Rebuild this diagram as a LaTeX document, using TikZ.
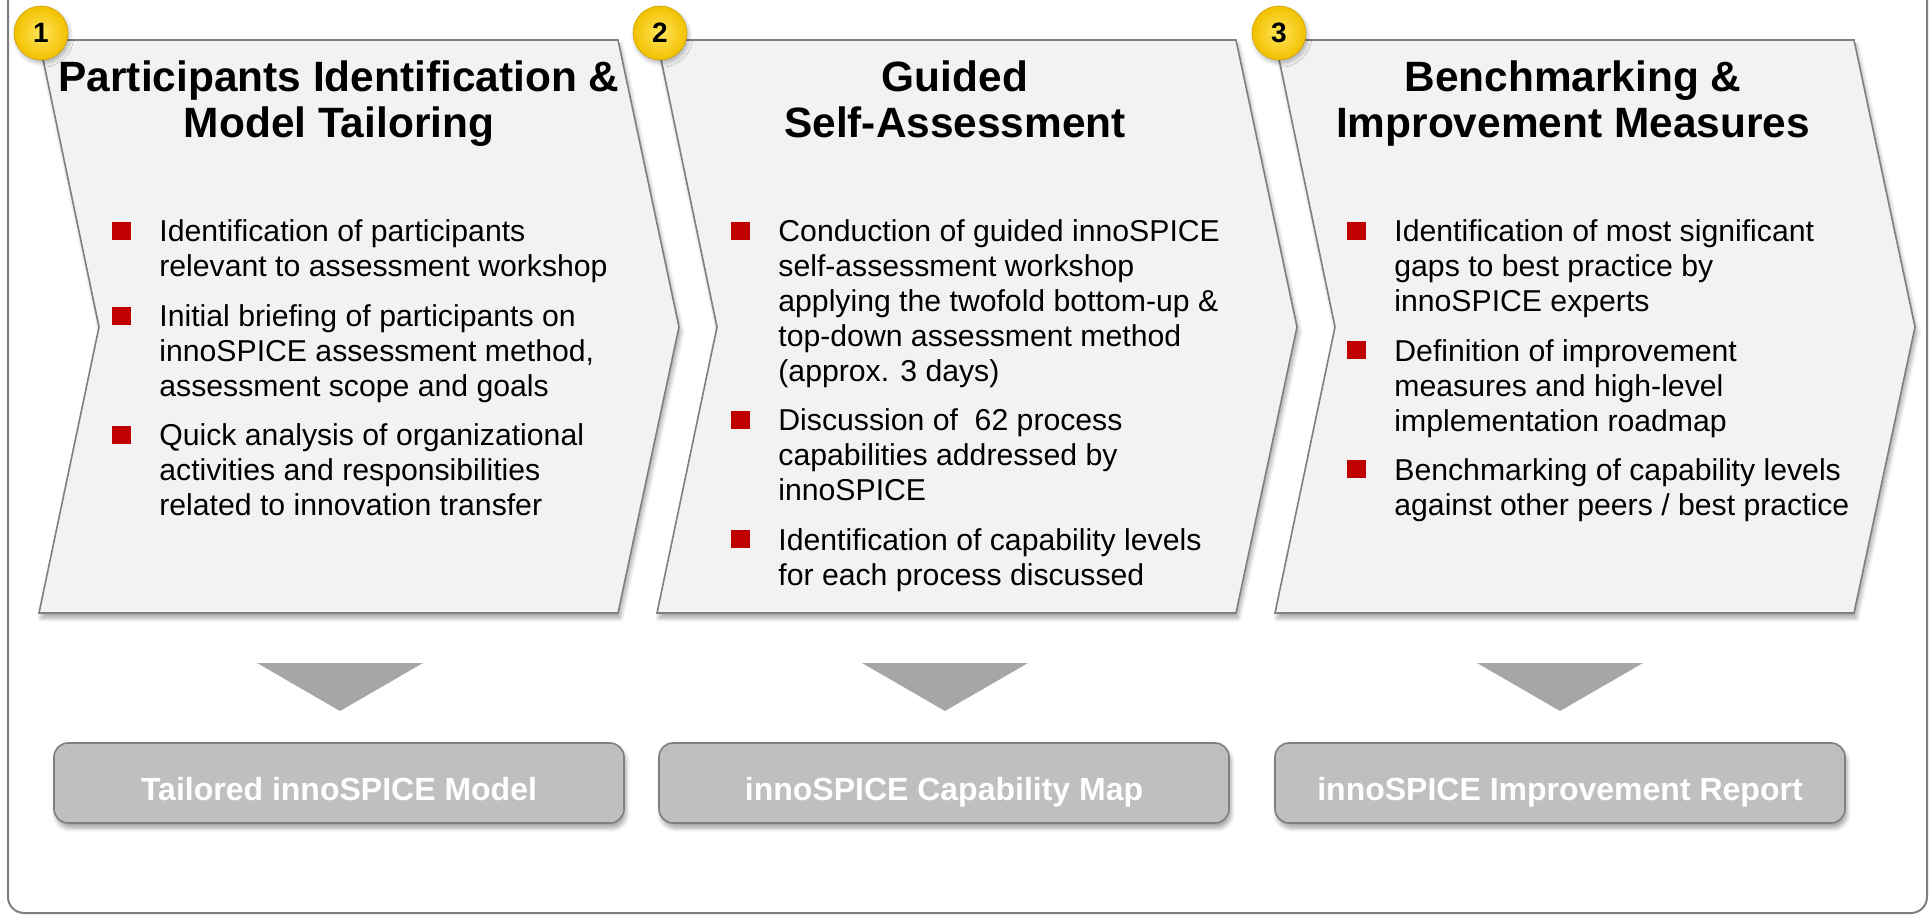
\documentclass[tikz,border=0pt]{standalone}
\usepackage{fontspec}
\setmainfont{Liberation Sans}
\usetikzlibrary{shadows.blur}

\definecolor{panel}{HTML}{F2F2F2}
\definecolor{edge}{HTML}{7F7F7F}
\definecolor{bulletred}{HTML}{C00000}
\definecolor{arrowgray}{HTML}{A6A6A6}
\definecolor{resultgray}{HTML}{BFBFBF}
\definecolor{goldlight}{HTML}{FFE65A}
\definecolor{golddark}{HTML}{F2C000}

\begin{document}
\begin{tikzpicture}[x=0.5pt, y=-0.5pt,
    chevron/.style={fill=panel, draw=edge, line width=0.8pt,
      blur shadow={shadow xshift=1pt, shadow yshift=-2.5pt, shadow blur steps=6, shadow opacity=35}},
    steptitle/.style={anchor=base, align=center, inner sep=0pt,
      font=\fontsize{21.2pt}{23pt}\selectfont\bfseries},
    item/.style={anchor=base west, align=left, inner sep=0pt,
      font=\fontsize{15.1pt}{17.5pt}\selectfont},
    sq/.style={fill=bulletred, inner sep=0pt, minimum width=9.5pt, minimum height=9pt},
    numball/.style={circle, minimum size=27pt, inner sep=0pt, inner color=goldlight, outer color=golddark,
      draw=golddark!85!black, line width=0.3pt, font=\fontsize{14pt}{14pt}\selectfont\bfseries,
      blur shadow={shadow xshift=0.8pt, shadow yshift=-1.5pt, shadow blur steps=5, shadow opacity=30}},
    result/.style={fill=resultgray, draw=edge, line width=0.8pt, rounded corners=7pt,
      minimum width=285pt, minimum height=40pt, text=white, text height=17.5pt, text depth=0pt,
      font=\fontsize{16pt}{16pt}\selectfont\bfseries,
      blur shadow={shadow xshift=1pt, shadow yshift=-2.5pt, shadow blur steps=6, shadow opacity=35}}
  ]
    \useasboundingbox (0, 0) rectangle (1929, 915);
    \draw[edge, line width=1pt, rounded corners=8pt] (8, -40) rectangle (1927, 913);

    \foreach \k in {0, 1, 2} {
      \pgfmathsetmacro{\xl}{39 + 618*\k}
      \draw[chevron] (\xl, 40) -- (\xl + 579, 40) -- (\xl + 640, 327) -- (\xl + 579, 613)
        -- (\xl, 613) -- (\xl + 60, 327) -- cycle;
    }

    \node[numball] (num1) at (41, 33) {1};
    \node[numball] (num2) at (660, 33) {2};
    \node[numball] (num3) at (1279, 33) {3};

    % base = baseline of the last line
    \node[steptitle] (title1) at (339, 138) {Participants Identification \&\\Model Tailoring};
    \node[steptitle] (title2) at (955, 138) {Guided\\Self-Assessment};
    \node[steptitle] (title3) at (1573, 138) {Benchmarking \&\\Improvement Measures};

    \node[item] (p1a) at (159, 276.7) {Identification of participants\\relevant to assessment workshop};
    \node[item] (p1b) at (159, 396.7) {Initial briefing of participants on\\innoSPICE assessment method,\\assessment scope and goals};
    \node[item] (p1c) at (159, 515.5) {Quick analysis of organizational\\activities and responsibilities\\related to innovation transfer};

    \node[item] (p2a) at (778, 381.7) {Conduction of guided innoSPICE\\self-assessment workshop\\applying the twofold bottom-up \&\\top-down assessment method\\(approx. 3 days)};
    \node[item] (p2b) at (778, 500.5) {Discussion of\ \ 62 process\\capabilities addressed by\\innoSPICE};
    \node[item] (p2c) at (778, 585) {Identification of capability levels\\for each process discussed};

    \node[item] (p3a) at (1394, 311.7) {Identification of most significant\\gaps to best practice by\\innoSPICE experts};
    \node[item] (p3b) at (1394, 431) {Definition of improvement\\measures and high-level\\implementation roadmap};
    \node[item] (p3c) at (1394, 515) {Benchmarking of capability levels\\against other peers / best practice};

    % square beside the first line of each item
    \foreach \p/\n in {p1a/2, p1b/3, p1c/3, p2a/5, p2b/3, p2c/2, p3a/3, p3b/3, p3c/2}
      \node[sq] at ([xshift=-18.75pt, yshift=5.5pt + (\n - 1)*17.5pt]\p.base west) {};

    \foreach \cx in {340, 945, 1560}
      \fill[arrowgray] (\cx - 83, 663) -- (\cx + 83, 663) -- (\cx, 711) -- cycle;

    \node[result] (out1) at (339, 783) {Tailored innoSPICE Model};
    \node[result] (out2) at (944, 783) {innoSPICE Capability Map};
    \node[result] (out3) at (1560, 783) {innoSPICE Improvement Report};
  \end{tikzpicture}
\end{document}
